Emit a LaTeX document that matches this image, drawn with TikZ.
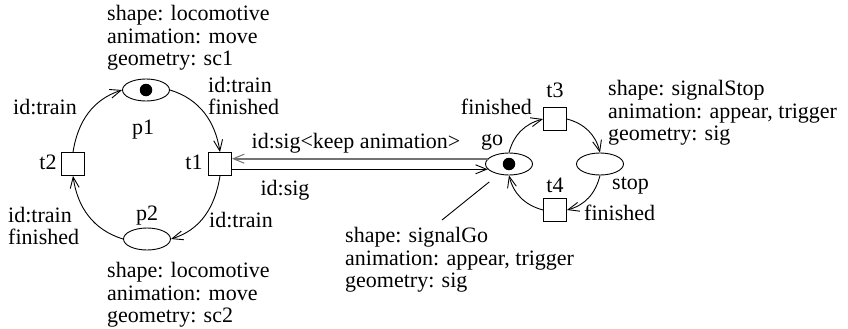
\documentclass[tikz,border=0pt]{standalone}
\usepackage{fontspec}
\setmainfont{Liberation Serif}
\usetikzlibrary{shapes.geometric,arrows.meta,calc}
\begin{document}
\begin{tikzpicture}[x=1pt,y=1pt,
  font=\fontsize{22}{22.5}\selectfont,
  >={Straight Barb[length=11pt,width=9pt]},
  place/.style={draw, ellipse, line width=0.9pt, minimum width=47pt, minimum height=22pt, inner sep=0pt},
  trans/.style={draw, rectangle, line width=0.9pt, minimum size=23pt, inner sep=0pt},
  token/.style={circle, fill=black, minimum size=12.5pt, inner sep=0pt},
  lbl/.style={inner sep=0pt, align=left},
  arc/.style={->, line width=0.9pt},
  heavy/.style={-{Straight Barb[length=11pt,width=9pt,line width=1pt]}, line width=2pt, draw=black!55}
]
\useasboundingbox (0,0) rectangle (848,-329);

% left net
\node[place] (p1) at (146,-90) {};
\node[token] at (p1.center) {};
\node[place] (p2) at (147,-239) {};
\node[trans] (t1) at (220,-164) {};
\node[trans] (t2) at (73,-164) {};

\draw[arc] (t2.north) to[out=81,in=198] (p1.west);
\draw[arc] (p1.east) to[out=-17,in=99] (t1.north);
\draw[arc] (t1.south) to[out=-99,in=17] (p2.east);
\draw[arc] (p2.west) to[out=163,in=-82] (t2.south);

\node[lbl] at (143,-130) {p1};
\node[lbl] at (147,-216) {p2};
\node[lbl] at (48,-162) {t2};
\node[lbl] at (194,-162) {t1};
\node[lbl, anchor=center] at (45,-107) {id:train};
\node[lbl, anchor=west] at (208,-96) {id:train\\finished};
\node[lbl, anchor=west] at (209,-220) {id:train};
\node[lbl, anchor=west] at (8,-226) {id:train\\finished};
\node[lbl, anchor=west] at (107,-38) {shape: locomotive\\animation: move\\geometry: sc1};
\node[lbl, anchor=west] at (107,-295) {shape: locomotive\\animation: move\\geometry: sc2};

% right net
\node[place] (go) at (509,-164) {};
\node[token] at (go.center) {};
\node[place] (stop) at (600,-164) {};
\node[trans] (t3) at (555,-119) {};
\node[trans] (t4) at (555,-210) {};

\draw[arc] (go.north) to[out=75,in=195] (t3.west);
\draw[arc] (t3.east) to[out=-15,in=104] (stop.north);
\draw[arc] (stop.south) to[out=-104,in=15] (t4.east);
\draw[arc] (t4.west) to[out=165,in=-76] (go.south);

\node[lbl] at (492,-142) {go};
\node[lbl] at (555,-90) {t3};
\node[lbl] at (555,-185) {t4};
\node[lbl, anchor=east] at (532,-107) {finished};
\node[lbl, anchor=west] at (612,-186) {stop};
\node[lbl, anchor=west] at (584,-213) {finished};
\node[lbl, anchor=west] at (608,-113) {shape: signalStop\\animation: appear, trigger\\geometry: sig};

% connection between nets
\draw[heavy] (go.166) -- (go.166 -| t1.east);
\draw[arc] (t1.east |- go.194) -- (go.194);
\node[lbl] at (356,-143) {id:sig<keep animation>};
\node[lbl] at (285,-190) {id:sig};

% annotation for go
\coordinate (gonote) at (442,-220);
\draw[line width=0.9pt, shorten <=12pt] (go.225) -- (gonote);
\node[lbl, anchor=west] at (345,-260) {shape: signalGo\\animation: appear, trigger\\geometry: sig};
\end{tikzpicture}
\end{document}
